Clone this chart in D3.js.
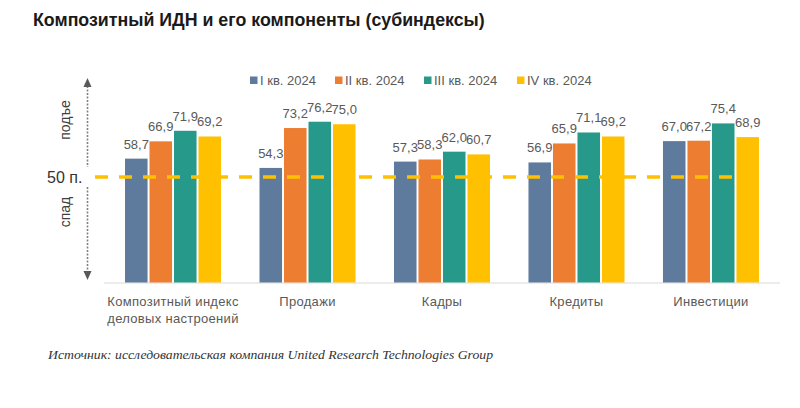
<!DOCTYPE html>
<html><head><meta charset="utf-8">
<script src="https://cdn.jsdelivr.net/npm/d3@7"></script>
<style>body{margin:0;background:#fff}svg{display:block}</style>
</head><body>
<svg id="c" width="800" height="408"></svg>
<script>
const categories = [["Композитный индекс","деловых настроений"],["Продажи"],["Кадры"],["Кредиты"],["Инвестиции"]];
const seriesNames = ["I кв. 2024","II кв. 2024","III кв. 2024","IV кв. 2024"];
const q1 = [58.7, 54.3, 57.3, 56.9, 67.0];
const q2 = [66.9, 73.2, 58.3, 65.9, 67.2];
const q3 = [71.9, 76.2, 62.0, 71.1, 75.4];
const q4 = [69.2, 75.0, 60.7, 69.2, 68.9];
const colors = ["#5E7A9C","#ED7D31","#27998B","#FFC000"];
const threshold = 50;

const series = [q1,q2,q3,q4];
const svg = d3.select("#c");
const x0 = d3.scaleBand().domain(d3.range(categories.length)).range([100,784]).paddingInner(0.286).paddingOuter(0.186);
const x1 = d3.scaleBand().domain(d3.range(series.length)).range([0,x0.bandwidth()]).paddingInner(0.08);
const y = d3.scaleLinear().domain([0,100]).range([282.5,71.5]);
const fmt = v => d3.format(".1f")(v).replace(".",",");

// title
svg.append("text").attr("x",33).attr("y",26).attr("font-family","Liberation Sans, Arial, sans-serif")
  .attr("font-weight","bold").attr("font-size",17.8).attr("fill","#1a1a1a")
  .text("Композитный ИДН и его компоненты (субиндексы)");

// legend
const legX = [250,335,424,517];
const leg = svg.append("g");
seriesNames.forEach((n,i)=>{
  leg.append("rect").attr("x",legX[i]).attr("y",76.5).attr("width",7.5).attr("height",7.5).attr("fill",colors[i]);
  leg.append("text").attr("x",legX[i]+10).attr("y",84.5).attr("font-family","Liberation Sans, Arial, sans-serif")
    .attr("font-size",13).attr("fill","#595959").text(n);
});

// axis baseline
svg.append("line").attr("x1",104).attr("x2",780).attr("y1",y(0)+0.5).attr("y2",y(0)+0.5)
  .attr("stroke","#d9d9d9").attr("stroke-width",1.2);

// bars
const groups = svg.append("g").selectAll("g").data(categories).join("g")
  .attr("transform",(d,i)=>`translate(${x0(i)},0)`);
groups.each(function(d,ci){
  const g = d3.select(this);
  series.forEach((s,si)=>{
    g.append("rect").attr("x",x1(si)).attr("width",x1.bandwidth())
      .attr("y",y(s[ci])).attr("height",y(0)-y(s[ci])).attr("fill",colors[si]);
  });
  series.forEach((s,si)=>{
    g.append("text").attr("x",x1(si)+x1.bandwidth()/2).attr("y",y(s[ci])-10)
      .attr("text-anchor","middle").attr("font-family","Liberation Sans, Arial, sans-serif")
      .attr("font-size",13).attr("fill","#595959").text(fmt(s[ci]));
  });
});

// category labels
categories.forEach((lines,ci)=>{
  const t = svg.append("text").attr("text-anchor","middle").attr("font-family","Liberation Sans, Arial, sans-serif")
    .attr("font-size",13).attr("fill","#595959").attr("letter-spacing",0.3);
  lines.forEach((l,li)=>{
    t.append("tspan").attr("x",x0(ci)+x0.bandwidth()/2).attr("y",306+li*17).text(l);
  });
});

// threshold dashed line
svg.append("line").attr("x1",95).attr("x2",737).attr("y1",y(threshold)).attr("y2",y(threshold))
  .attr("stroke","#FFC000").attr("stroke-width",3.5).attr("stroke-dasharray","13,11");

// vertical annotation arrow
const ax = 87.5;
svg.append("line").attr("x1",ax).attr("x2",ax).attr("y1",86).attr("y2",167)
  .attr("stroke","#808080").attr("stroke-width",1.6).attr("stroke-dasharray","2,1.5");
svg.append("line").attr("x1",ax).attr("x2",ax).attr("y1",187).attr("y2",271)
  .attr("stroke","#808080").attr("stroke-width",1.6).attr("stroke-dasharray","2,1.5");
svg.append("path").attr("d",`M${ax},78 L${ax-4},87 L${ax+4},87 Z`).attr("fill","#595959");
svg.append("path").attr("d",`M${ax},280 L${ax-4},271 L${ax+4},271 Z`).attr("fill","#595959");
svg.append("text").attr("x",47).attr("y",y(threshold)+6).attr("font-family","Liberation Sans, Arial, sans-serif")
  .attr("font-size",16).attr("fill","#333").text("50 п.");
svg.append("text").attr("transform",`translate(70,120) rotate(-90)`).attr("text-anchor","middle")
  .attr("font-family","Liberation Sans, Arial, sans-serif").attr("font-size",14).attr("fill","#404040").text("подъе");
svg.append("text").attr("transform",`translate(70,212) rotate(-90)`).attr("text-anchor","middle")
  .attr("font-family","Liberation Sans, Arial, sans-serif").attr("font-size",14).attr("fill","#404040").text("спад");

// source
svg.append("text").attr("x",48).attr("y",359).attr("font-family","Liberation Serif, serif")
  .attr("font-style","italic").attr("font-size",12.5).attr("fill","#333")
  .attr("textLength",445).attr("lengthAdjust","spacingAndGlyphs")
  .text("Источник: исследовательская компания United Research Technologies Group");
</script>
</body></html>
